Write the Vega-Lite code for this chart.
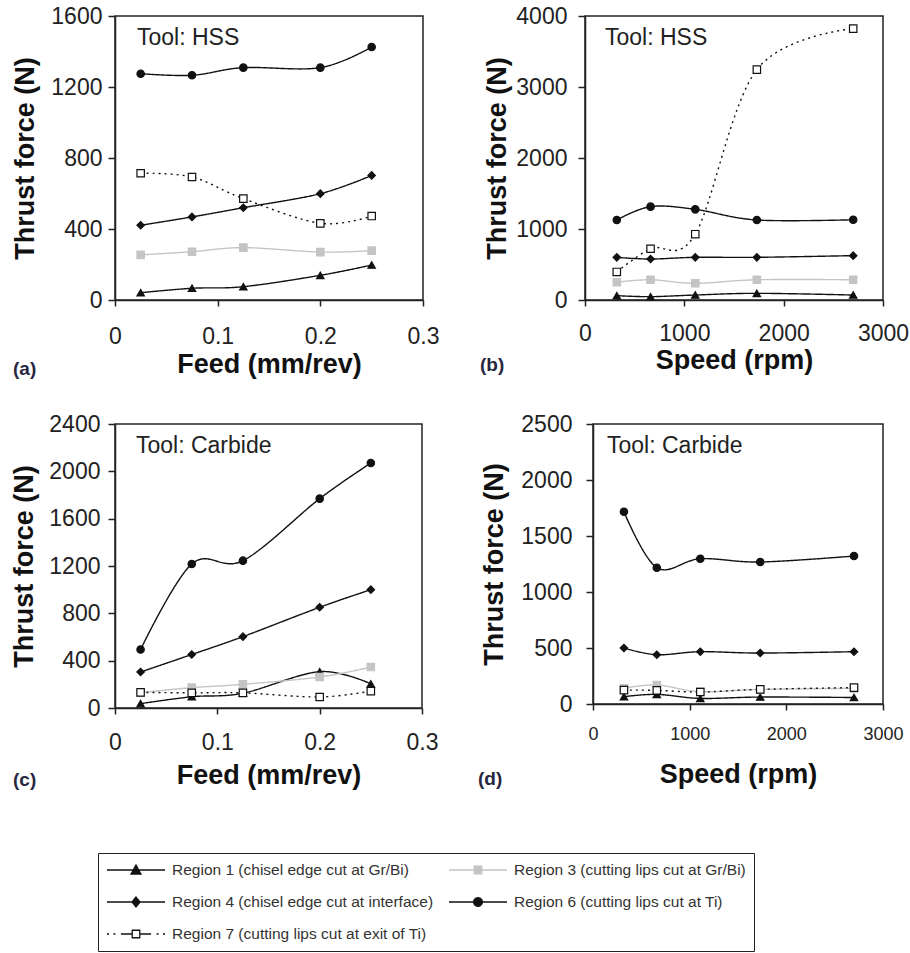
{
  "$schema": "https://vega.github.io/schema/vega-lite/v6.json",
  "background": "white",
  "autosize": {"type": "none"},
  "padding": {"left": 115, "top": 16, "right": 795, "bottom": 937},
  "datasets": {
    "thrust": [
      {"panel": "a", "feed": 0.025, "region": "Region 1 (chisel edge cut at Gr/Bi)", "force": 41},
      {"panel": "a", "feed": 0.075, "region": "Region 1 (chisel edge cut at Gr/Bi)", "force": 66},
      {"panel": "a", "feed": 0.125, "region": "Region 1 (chisel edge cut at Gr/Bi)", "force": 75},
      {"panel": "a", "feed": 0.2, "region": "Region 1 (chisel edge cut at Gr/Bi)", "force": 139},
      {"panel": "a", "feed": 0.25, "region": "Region 1 (chisel edge cut at Gr/Bi)", "force": 197},
      {"panel": "a", "feed": 0.025, "region": "Region 3 (cutting lips cut at Gr/Bi)", "force": 254},
      {"panel": "a", "feed": 0.075, "region": "Region 3 (cutting lips cut at Gr/Bi)", "force": 272},
      {"panel": "a", "feed": 0.125, "region": "Region 3 (cutting lips cut at Gr/Bi)", "force": 295},
      {"panel": "a", "feed": 0.2, "region": "Region 3 (cutting lips cut at Gr/Bi)", "force": 270},
      {"panel": "a", "feed": 0.25, "region": "Region 3 (cutting lips cut at Gr/Bi)", "force": 278},
      {"panel": "a", "feed": 0.025, "region": "Region 4 (chisel edge cut at interface)", "force": 421},
      {"panel": "a", "feed": 0.075, "region": "Region 4 (chisel edge cut at interface)", "force": 468},
      {"panel": "a", "feed": 0.125, "region": "Region 4 (chisel edge cut at interface)", "force": 520},
      {"panel": "a", "feed": 0.2, "region": "Region 4 (chisel edge cut at interface)", "force": 599},
      {"panel": "a", "feed": 0.25, "region": "Region 4 (chisel edge cut at interface)", "force": 702},
      {"panel": "a", "feed": 0.025, "region": "Region 6 (cutting lips cut at Ti)", "force": 1275},
      {"panel": "a", "feed": 0.075, "region": "Region 6 (cutting lips cut at Ti)", "force": 1266},
      {"panel": "a", "feed": 0.125, "region": "Region 6 (cutting lips cut at Ti)", "force": 1309},
      {"panel": "a", "feed": 0.2, "region": "Region 6 (cutting lips cut at Ti)", "force": 1309},
      {"panel": "a", "feed": 0.25, "region": "Region 6 (cutting lips cut at Ti)", "force": 1425},
      {"panel": "a", "feed": 0.025, "region": "Region 7 (cutting lips cut at exit of Ti)", "force": 714},
      {"panel": "a", "feed": 0.075, "region": "Region 7 (cutting lips cut at exit of Ti)", "force": 693},
      {"panel": "a", "feed": 0.125, "region": "Region 7 (cutting lips cut at exit of Ti)", "force": 571},
      {"panel": "a", "feed": 0.2, "region": "Region 7 (cutting lips cut at exit of Ti)", "force": 432},
      {"panel": "a", "feed": 0.25, "region": "Region 7 (cutting lips cut at exit of Ti)", "force": 473},

      {"panel": "b", "speed": 320, "region": "Region 1 (chisel edge cut at Gr/Bi)", "force": 61},
      {"panel": "b", "speed": 660, "region": "Region 1 (chisel edge cut at Gr/Bi)", "force": 47},
      {"panel": "b", "speed": 1110, "region": "Region 1 (chisel edge cut at Gr/Bi)", "force": 70},
      {"panel": "b", "speed": 1730, "region": "Region 1 (chisel edge cut at Gr/Bi)", "force": 94},
      {"panel": "b", "speed": 2700, "region": "Region 1 (chisel edge cut at Gr/Bi)", "force": 70},
      {"panel": "b", "speed": 320, "region": "Region 3 (cutting lips cut at Gr/Bi)", "force": 250},
      {"panel": "b", "speed": 660, "region": "Region 3 (cutting lips cut at Gr/Bi)", "force": 285},
      {"panel": "b", "speed": 1110, "region": "Region 3 (cutting lips cut at Gr/Bi)", "force": 235},
      {"panel": "b", "speed": 1730, "region": "Region 3 (cutting lips cut at Gr/Bi)", "force": 285},
      {"panel": "b", "speed": 2700, "region": "Region 3 (cutting lips cut at Gr/Bi)", "force": 285},
      {"panel": "b", "speed": 320, "region": "Region 4 (chisel edge cut at interface)", "force": 601},
      {"panel": "b", "speed": 660, "region": "Region 4 (chisel edge cut at interface)", "force": 577},
      {"panel": "b", "speed": 1110, "region": "Region 4 (chisel edge cut at interface)", "force": 601},
      {"panel": "b", "speed": 1730, "region": "Region 4 (chisel edge cut at interface)", "force": 601},
      {"panel": "b", "speed": 2700, "region": "Region 4 (chisel edge cut at interface)", "force": 625},
      {"panel": "b", "speed": 320, "region": "Region 6 (cutting lips cut at Ti)", "force": 1127},
      {"panel": "b", "speed": 660, "region": "Region 6 (cutting lips cut at Ti)", "force": 1315},
      {"panel": "b", "speed": 1110, "region": "Region 6 (cutting lips cut at Ti)", "force": 1277},
      {"panel": "b", "speed": 1730, "region": "Region 6 (cutting lips cut at Ti)", "force": 1127},
      {"panel": "b", "speed": 2700, "region": "Region 6 (cutting lips cut at Ti)", "force": 1130},
      {"panel": "b", "speed": 320, "region": "Region 7 (cutting lips cut at exit of Ti)", "force": 395},
      {"panel": "b", "speed": 660, "region": "Region 7 (cutting lips cut at exit of Ti)", "force": 722},
      {"panel": "b", "speed": 1110, "region": "Region 7 (cutting lips cut at exit of Ti)", "force": 927},
      {"panel": "b", "speed": 1730, "region": "Region 7 (cutting lips cut at exit of Ti)", "force": 3245},
      {"panel": "b", "speed": 2700, "region": "Region 7 (cutting lips cut at exit of Ti)", "force": 3822},

      {"panel": "c", "feed": 0.025, "region": "Region 1 (chisel edge cut at Gr/Bi)", "force": 37},
      {"panel": "c", "feed": 0.075, "region": "Region 1 (chisel edge cut at Gr/Bi)", "force": 95},
      {"panel": "c", "feed": 0.125, "region": "Region 1 (chisel edge cut at Gr/Bi)", "force": 125},
      {"panel": "c", "feed": 0.2, "region": "Region 1 (chisel edge cut at Gr/Bi)", "force": 307},
      {"panel": "c", "feed": 0.25, "region": "Region 1 (chisel edge cut at Gr/Bi)", "force": 204},
      {"panel": "c", "feed": 0.025, "region": "Region 3 (cutting lips cut at Gr/Bi)", "force": 130},
      {"panel": "c", "feed": 0.075, "region": "Region 3 (cutting lips cut at Gr/Bi)", "force": 172},
      {"panel": "c", "feed": 0.125, "region": "Region 3 (cutting lips cut at Gr/Bi)", "force": 200},
      {"panel": "c", "feed": 0.2, "region": "Region 3 (cutting lips cut at Gr/Bi)", "force": 262},
      {"panel": "c", "feed": 0.25, "region": "Region 3 (cutting lips cut at Gr/Bi)", "force": 346},
      {"panel": "c", "feed": 0.025, "region": "Region 4 (chisel edge cut at interface)", "force": 304},
      {"panel": "c", "feed": 0.075, "region": "Region 4 (chisel edge cut at interface)", "force": 452},
      {"panel": "c", "feed": 0.125, "region": "Region 4 (chisel edge cut at interface)", "force": 603},
      {"panel": "c", "feed": 0.2, "region": "Region 4 (chisel edge cut at interface)", "force": 851},
      {"panel": "c", "feed": 0.25, "region": "Region 4 (chisel edge cut at interface)", "force": 1000},
      {"panel": "c", "feed": 0.025, "region": "Region 6 (cutting lips cut at Ti)", "force": 494},
      {"panel": "c", "feed": 0.075, "region": "Region 6 (cutting lips cut at Ti)", "force": 1217},
      {"panel": "c", "feed": 0.125, "region": "Region 6 (cutting lips cut at Ti)", "force": 1245},
      {"panel": "c", "feed": 0.2, "region": "Region 6 (cutting lips cut at Ti)", "force": 1769},
      {"panel": "c", "feed": 0.25, "region": "Region 6 (cutting lips cut at Ti)", "force": 2070},
      {"panel": "c", "feed": 0.025, "region": "Region 7 (cutting lips cut at exit of Ti)", "force": 132},
      {"panel": "c", "feed": 0.075, "region": "Region 7 (cutting lips cut at exit of Ti)", "force": 128},
      {"panel": "c", "feed": 0.125, "region": "Region 7 (cutting lips cut at exit of Ti)", "force": 128},
      {"panel": "c", "feed": 0.2, "region": "Region 7 (cutting lips cut at exit of Ti)", "force": 93},
      {"panel": "c", "feed": 0.25, "region": "Region 7 (cutting lips cut at exit of Ti)", "force": 143},

      {"panel": "d", "speed": 320, "region": "Region 1 (chisel edge cut at Gr/Bi)", "force": 65},
      {"panel": "d", "speed": 660, "region": "Region 1 (chisel edge cut at Gr/Bi)", "force": 86},
      {"panel": "d", "speed": 1110, "region": "Region 1 (chisel edge cut at Gr/Bi)", "force": 50},
      {"panel": "d", "speed": 1730, "region": "Region 1 (chisel edge cut at Gr/Bi)", "force": 62},
      {"panel": "d", "speed": 2700, "region": "Region 1 (chisel edge cut at Gr/Bi)", "force": 58},
      {"panel": "d", "speed": 320, "region": "Region 3 (cutting lips cut at Gr/Bi)", "force": 140},
      {"panel": "d", "speed": 660, "region": "Region 3 (cutting lips cut at Gr/Bi)", "force": 170},
      {"panel": "d", "speed": 1110, "region": "Region 3 (cutting lips cut at Gr/Bi)", "force": 110},
      {"panel": "d", "speed": 1730, "region": "Region 3 (cutting lips cut at Gr/Bi)", "force": 130},
      {"panel": "d", "speed": 2700, "region": "Region 3 (cutting lips cut at Gr/Bi)", "force": 140},
      {"panel": "d", "speed": 320, "region": "Region 4 (chisel edge cut at interface)", "force": 500},
      {"panel": "d", "speed": 660, "region": "Region 4 (chisel edge cut at interface)", "force": 440},
      {"panel": "d", "speed": 1110, "region": "Region 4 (chisel edge cut at interface)", "force": 467},
      {"panel": "d", "speed": 1730, "region": "Region 4 (chisel edge cut at interface)", "force": 455},
      {"panel": "d", "speed": 2700, "region": "Region 4 (chisel edge cut at interface)", "force": 467},
      {"panel": "d", "speed": 320, "region": "Region 6 (cutting lips cut at Ti)", "force": 1716},
      {"panel": "d", "speed": 660, "region": "Region 6 (cutting lips cut at Ti)", "force": 1217},
      {"panel": "d", "speed": 1110, "region": "Region 6 (cutting lips cut at Ti)", "force": 1297},
      {"panel": "d", "speed": 1730, "region": "Region 6 (cutting lips cut at Ti)", "force": 1268},
      {"panel": "d", "speed": 2700, "region": "Region 6 (cutting lips cut at Ti)", "force": 1321},
      {"panel": "d", "speed": 320, "region": "Region 7 (cutting lips cut at exit of Ti)", "force": 124},
      {"panel": "d", "speed": 660, "region": "Region 7 (cutting lips cut at exit of Ti)", "force": 122},
      {"panel": "d", "speed": 1110, "region": "Region 7 (cutting lips cut at exit of Ti)", "force": 107},
      {"panel": "d", "speed": 1730, "region": "Region 7 (cutting lips cut at exit of Ti)", "force": 131},
      {"panel": "d", "speed": 2700, "region": "Region 7 (cutting lips cut at exit of Ti)", "force": 146}
    ]
  },
  "spacing": 32,
  "vconcat": [
    {
      "bounds": "flush",
      "spacing": 162,
      "hconcat": [
        {
          "width": 308,
          "height": 284,
          "title": {"text": "(a)", "dx": -102},
          "data": {"name": "thrust"},
          "transform": [{"filter": "datum.panel === 'a'"}],
          "layer": [
            {
              "mark": {"type": "line", "interpolate": "cardinal", "strokeWidth": 1.4},
              "encoding": {
                "x": {"field": "feed", "type": "quantitative", "scale": {"domain": [0, 0.3], "nice": false, "zero": false},
                  "axis": {"title": "Feed (mm/rev)", "values": [0, 0.1, 0.2, 0.3], "format": "~g", "labelPadding": 37, "titleY": 72}},
                "y": {"field": "force", "type": "quantitative", "scale": {"domain": [0, 1600], "nice": false},
                  "axis": {"title": "Thrust force (N)", "values": [0, 400, 800, 1200, 1600], "labelPadding": 6, "titleX": -82}},
                "color": {"field": "region", "type": "nominal",
                  "scale": {"domain": ["Region 1 (chisel edge cut at Gr/Bi)", "Region 4 (chisel edge cut at interface)", "Region 7 (cutting lips cut at exit of Ti)", "Region 3 (cutting lips cut at Gr/Bi)", "Region 6 (cutting lips cut at Ti)"], "range": ["#111111", "#111111", "#111111", "#c4c4c4", "#111111"]},
                  "legend": {"encode": {
                    "labels": {"update": {
                      "text": {"signal": "indexof(datum.label,'Region 3')===0 ? datum.label + '\u2003\u2003' : datum.label"}
                    }},
                    "symbols": {"update": {
                      "shape": {"signal": "indexof(datum.value,'Region 1')===0 ? 'M-1,0H1M-0.17,0.14L0,-0.17L0.17,0.14Z' : indexof(datum.value,'Region 3')===0 ? 'M-1,0H1M-0.13,-0.13H0.13V0.13H-0.13Z' : indexof(datum.value,'Region 4')===0 ? 'M-1,0H1M0,-0.17L0.14,0L0,0.17L-0.14,0Z' : indexof(datum.value,'Region 6')===0 ? 'M-1,0H1M-0.15,0A0.15,0.15,0,1,0,0.15,0A0.15,0.15,0,1,0,-0.15,0Z' : 'M-1,0h0.07M-0.78,0h0.07M-0.52,0H-0.15M0.15,0H0.52M0.71,0h0.07M0.93,0h0.07M-0.13,-0.13H0.13V0.13H-0.13Z'"},
                      "fill": {"signal": "indexof(datum.value,'Region 3')===0 ? '#c4c4c4' : indexof(datum.value,'Region 7')===0 ? '#ffffff' : '#111111'"},
                      "strokeDash": {"value": [1, 0]},
                      "strokeWidth": {"value": 1.3},
                      "opacity": {"value": 1}
                    }}}}},
                "strokeDash": {"field": "region", "type": "nominal", "legend": null,
                  "scale": {"domain": ["Region 1 (chisel edge cut at Gr/Bi)", "Region 3 (cutting lips cut at Gr/Bi)", "Region 4 (chisel edge cut at interface)", "Region 6 (cutting lips cut at Ti)", "Region 7 (cutting lips cut at exit of Ti)"], "range": [[1, 0], [1, 0], [1, 0], [1, 0], [2, 4]]}}
              }
            },
            {
              "mark": {"type": "point", "filled": true, "size": 55, "strokeWidth": 1.2, "opacity": 1},
              "encoding": {
                "x": {"field": "feed", "type": "quantitative"},
                "y": {"field": "force", "type": "quantitative"},
                "shape": {"field": "region", "type": "nominal", "legend": null,
                  "scale": {"domain": ["Region 1 (chisel edge cut at Gr/Bi)", "Region 3 (cutting lips cut at Gr/Bi)", "Region 4 (chisel edge cut at interface)", "Region 6 (cutting lips cut at Ti)", "Region 7 (cutting lips cut at exit of Ti)"], "range": ["triangle-up", "square", "diamond", "circle", "square"]}},
                "fill": {"field": "region", "type": "nominal", "legend": null,
                  "scale": {"domain": ["Region 1 (chisel edge cut at Gr/Bi)", "Region 3 (cutting lips cut at Gr/Bi)", "Region 4 (chisel edge cut at interface)", "Region 6 (cutting lips cut at Ti)", "Region 7 (cutting lips cut at exit of Ti)"], "range": ["#111111", "#c4c4c4", "#111111", "#111111", "#ffffff"]}},
                "stroke": {"field": "region", "type": "nominal", "legend": null,
                  "scale": {"domain": ["Region 1 (chisel edge cut at Gr/Bi)", "Region 3 (cutting lips cut at Gr/Bi)", "Region 4 (chisel edge cut at interface)", "Region 6 (cutting lips cut at Ti)", "Region 7 (cutting lips cut at exit of Ti)"], "range": ["#111111", "#c4c4c4", "#111111", "#111111", "#111111"]}}
              }
            },
            {
              "transform": [{"aggregate": [{"op": "count", "as": "points"}]}],
              "mark": {"type": "text", "align": "left", "baseline": "middle", "fontSize": 23, "color": "#222222"},
              "encoding": {"x": {"datum": 0.0214}, "y": {"datum": 1476}, "text": {"value": "Tool: HSS"}}
            }
          ]
        },
        {
          "width": 298,
          "height": 284,
          "title": {"text": "(b)", "dx": -105},
          "data": {"name": "thrust"},
          "transform": [{"filter": "datum.panel === 'b'"}],
          "layer": [
            {
              "mark": {"type": "line", "interpolate": "cardinal", "strokeWidth": 1.4},
              "encoding": {
                "x": {"field": "speed", "type": "quantitative", "scale": {"domain": [0, 3000], "nice": false, "zero": false},
                  "axis": {"title": "Speed (rpm)", "values": [0, 1000, 2000, 3000], "format": "d", "labelPadding": 34, "titleY": 68}},
                "y": {"field": "force", "type": "quantitative", "scale": {"domain": [0, 4000], "nice": false},
                  "axis": {"title": "Thrust force (N)", "values": [0, 1000, 2000, 3000, 4000], "labelPadding": 11, "titleX": -80}},
                "color": {"field": "region", "type": "nominal",
                  "scale": {"domain": ["Region 1 (chisel edge cut at Gr/Bi)", "Region 4 (chisel edge cut at interface)", "Region 7 (cutting lips cut at exit of Ti)", "Region 3 (cutting lips cut at Gr/Bi)", "Region 6 (cutting lips cut at Ti)"], "range": ["#111111", "#111111", "#111111", "#c4c4c4", "#111111"]}},
                "strokeDash": {"field": "region", "type": "nominal", "legend": null,
                  "scale": {"domain": ["Region 1 (chisel edge cut at Gr/Bi)", "Region 3 (cutting lips cut at Gr/Bi)", "Region 4 (chisel edge cut at interface)", "Region 6 (cutting lips cut at Ti)", "Region 7 (cutting lips cut at exit of Ti)"], "range": [[1, 0], [1, 0], [1, 0], [1, 0], [2, 4]]}}
              }
            },
            {
              "mark": {"type": "point", "filled": true, "size": 55, "strokeWidth": 1.2, "opacity": 1},
              "encoding": {
                "x": {"field": "speed", "type": "quantitative"},
                "y": {"field": "force", "type": "quantitative"},
                "shape": {"field": "region", "type": "nominal", "legend": null,
                  "scale": {"domain": ["Region 1 (chisel edge cut at Gr/Bi)", "Region 3 (cutting lips cut at Gr/Bi)", "Region 4 (chisel edge cut at interface)", "Region 6 (cutting lips cut at Ti)", "Region 7 (cutting lips cut at exit of Ti)"], "range": ["triangle-up", "square", "diamond", "circle", "square"]}},
                "fill": {"field": "region", "type": "nominal", "legend": null,
                  "scale": {"domain": ["Region 1 (chisel edge cut at Gr/Bi)", "Region 3 (cutting lips cut at Gr/Bi)", "Region 4 (chisel edge cut at interface)", "Region 6 (cutting lips cut at Ti)", "Region 7 (cutting lips cut at exit of Ti)"], "range": ["#111111", "#c4c4c4", "#111111", "#111111", "#ffffff"]}},
                "stroke": {"field": "region", "type": "nominal", "legend": null,
                  "scale": {"domain": ["Region 1 (chisel edge cut at Gr/Bi)", "Region 3 (cutting lips cut at Gr/Bi)", "Region 4 (chisel edge cut at interface)", "Region 6 (cutting lips cut at Ti)", "Region 7 (cutting lips cut at exit of Ti)"], "range": ["#111111", "#c4c4c4", "#111111", "#111111", "#111111"]}}
              }
            },
            {
              "transform": [{"aggregate": [{"op": "count", "as": "points"}]}],
              "mark": {"type": "text", "align": "left", "baseline": "middle", "fontSize": 23, "color": "#222222"},
              "encoding": {"x": {"datum": 201}, "y": {"datum": 3690}, "text": {"value": "Tool: HSS"}}
            }
          ]
        }
      ]
    },
    {
      "bounds": "flush",
      "spacing": 171,
      "hconcat": [
        {
          "width": 307,
          "height": 284,
          "title": {"text": "(c)", "dx": -102},
          "data": {"name": "thrust"},
          "transform": [{"filter": "datum.panel === 'c'"}],
          "layer": [
            {
              "mark": {"type": "line", "interpolate": "cardinal", "strokeWidth": 1.4},
              "encoding": {
                "x": {"field": "feed", "type": "quantitative", "scale": {"domain": [0, 0.3], "nice": false, "zero": false},
                  "axis": {"title": "Feed (mm/rev)", "values": [0, 0.1, 0.2, 0.3], "format": "~g", "labelPadding": 35, "titleY": 75}},
                "y": {"field": "force", "type": "quantitative", "scale": {"domain": [0, 2400], "nice": false},
                  "axis": {"title": "Thrust force (N)", "values": [0, 400, 800, 1200, 1600, 2000, 2400], "labelPadding": 8, "titleX": -83}},
                "color": {"field": "region", "type": "nominal",
                  "scale": {"domain": ["Region 1 (chisel edge cut at Gr/Bi)", "Region 4 (chisel edge cut at interface)", "Region 7 (cutting lips cut at exit of Ti)", "Region 3 (cutting lips cut at Gr/Bi)", "Region 6 (cutting lips cut at Ti)"], "range": ["#111111", "#111111", "#111111", "#c4c4c4", "#111111"]}},
                "strokeDash": {"field": "region", "type": "nominal", "legend": null,
                  "scale": {"domain": ["Region 1 (chisel edge cut at Gr/Bi)", "Region 3 (cutting lips cut at Gr/Bi)", "Region 4 (chisel edge cut at interface)", "Region 6 (cutting lips cut at Ti)", "Region 7 (cutting lips cut at exit of Ti)"], "range": [[1, 0], [1, 0], [1, 0], [1, 0], [2, 4]]}}
              }
            },
            {
              "mark": {"type": "point", "filled": true, "size": 55, "strokeWidth": 1.2, "opacity": 1},
              "encoding": {
                "x": {"field": "feed", "type": "quantitative"},
                "y": {"field": "force", "type": "quantitative"},
                "shape": {"field": "region", "type": "nominal", "legend": null,
                  "scale": {"domain": ["Region 1 (chisel edge cut at Gr/Bi)", "Region 3 (cutting lips cut at Gr/Bi)", "Region 4 (chisel edge cut at interface)", "Region 6 (cutting lips cut at Ti)", "Region 7 (cutting lips cut at exit of Ti)"], "range": ["triangle-up", "square", "diamond", "circle", "square"]}},
                "fill": {"field": "region", "type": "nominal", "legend": null,
                  "scale": {"domain": ["Region 1 (chisel edge cut at Gr/Bi)", "Region 3 (cutting lips cut at Gr/Bi)", "Region 4 (chisel edge cut at interface)", "Region 6 (cutting lips cut at Ti)", "Region 7 (cutting lips cut at exit of Ti)"], "range": ["#111111", "#c4c4c4", "#111111", "#111111", "#ffffff"]}},
                "stroke": {"field": "region", "type": "nominal", "legend": null,
                  "scale": {"domain": ["Region 1 (chisel edge cut at Gr/Bi)", "Region 3 (cutting lips cut at Gr/Bi)", "Region 4 (chisel edge cut at interface)", "Region 6 (cutting lips cut at Ti)", "Region 7 (cutting lips cut at exit of Ti)"], "range": ["#111111", "#c4c4c4", "#111111", "#111111", "#111111"]}}
              }
            },
            {
              "transform": [{"aggregate": [{"op": "count", "as": "points"}]}],
              "mark": {"type": "text", "align": "left", "baseline": "middle", "fontSize": 23, "color": "#222222"},
              "encoding": {"x": {"datum": 0.0205}, "y": {"datum": 2214}, "text": {"value": "Tool: Carbide"}}
            }
          ]
        },
        {
          "width": 290,
          "height": 280,
          "title": {"text": "(d)", "dx": -115},
          "data": {"name": "thrust"},
          "transform": [{"filter": "datum.panel === 'd'"}],
          "layer": [
            {
              "mark": {"type": "line", "interpolate": "cardinal", "strokeWidth": 1.4},
              "encoding": {
                "x": {"field": "speed", "type": "quantitative", "scale": {"domain": [0, 3000], "nice": false, "zero": false},
                  "axis": {"title": "Speed (rpm)", "values": [0, 1000, 2000, 3000], "format": "d", "labelFontSize": 18, "labelPadding": 29, "titleY": 78}},
                "y": {"field": "force", "type": "quantitative", "scale": {"domain": [0, 2500], "nice": false},
                  "axis": {"title": "Thrust force (N)", "values": [0, 500, 1000, 1500, 2000, 2500], "labelPadding": 14, "titleX": -91}},
                "color": {"field": "region", "type": "nominal",
                  "scale": {"domain": ["Region 1 (chisel edge cut at Gr/Bi)", "Region 4 (chisel edge cut at interface)", "Region 7 (cutting lips cut at exit of Ti)", "Region 3 (cutting lips cut at Gr/Bi)", "Region 6 (cutting lips cut at Ti)"], "range": ["#111111", "#111111", "#111111", "#c4c4c4", "#111111"]}},
                "strokeDash": {"field": "region", "type": "nominal", "legend": null,
                  "scale": {"domain": ["Region 1 (chisel edge cut at Gr/Bi)", "Region 3 (cutting lips cut at Gr/Bi)", "Region 4 (chisel edge cut at interface)", "Region 6 (cutting lips cut at Ti)", "Region 7 (cutting lips cut at exit of Ti)"], "range": [[1, 0], [1, 0], [1, 0], [1, 0], [2, 4]]}}
              }
            },
            {
              "mark": {"type": "point", "filled": true, "size": 55, "strokeWidth": 1.2, "opacity": 1},
              "encoding": {
                "x": {"field": "speed", "type": "quantitative"},
                "y": {"field": "force", "type": "quantitative"},
                "shape": {"field": "region", "type": "nominal", "legend": null,
                  "scale": {"domain": ["Region 1 (chisel edge cut at Gr/Bi)", "Region 3 (cutting lips cut at Gr/Bi)", "Region 4 (chisel edge cut at interface)", "Region 6 (cutting lips cut at Ti)", "Region 7 (cutting lips cut at exit of Ti)"], "range": ["triangle-up", "square", "diamond", "circle", "square"]}},
                "fill": {"field": "region", "type": "nominal", "legend": null,
                  "scale": {"domain": ["Region 1 (chisel edge cut at Gr/Bi)", "Region 3 (cutting lips cut at Gr/Bi)", "Region 4 (chisel edge cut at interface)", "Region 6 (cutting lips cut at Ti)", "Region 7 (cutting lips cut at exit of Ti)"], "range": ["#111111", "#c4c4c4", "#111111", "#111111", "#ffffff"]}},
                "stroke": {"field": "region", "type": "nominal", "legend": null,
                  "scale": {"domain": ["Region 1 (chisel edge cut at Gr/Bi)", "Region 3 (cutting lips cut at Gr/Bi)", "Region 4 (chisel edge cut at interface)", "Region 6 (cutting lips cut at Ti)", "Region 7 (cutting lips cut at exit of Ti)"], "range": ["#111111", "#c4c4c4", "#111111", "#111111", "#111111"]}}
              }
            },
            {
              "transform": [{"aggregate": [{"op": "count", "as": "points"}]}],
              "mark": {"type": "text", "align": "left", "baseline": "middle", "fontSize": 23, "color": "#222222"},
              "encoding": {"x": {"datum": 145}, "y": {"datum": 2304}, "text": {"value": "Tool: Carbide"}}
            }
          ]
        }
      ]
    }
  ],
  "config": {
    "font": "Liberation Sans",
    "view": {"stroke": "#222222", "strokeWidth": 1.5},
    "axis": {
      "grid": false,
      "domainColor": "#222222",
      "domainWidth": 1.5,
      "tickColor": "#222222",
      "tickWidth": 1.5,
      "labelFont": "Liberation Sans",
      "labelFontSize": 23,
      "labelColor": "#222222",
      "labelFlush": false,
      "labelOverlap": false,
      "titleFont": "Liberation Sans",
      "titleFontSize": 27,
      "titleFontWeight": "bold",
      "titleColor": "#111111",
      "titleBaseline": "alphabetic"
    },
    "axisX": {"tickSize": 6, "labelBaseline": "alphabetic"},
    "axisY": {"tickSize": 7, "labelBaseline": "middle", "format": "d"},
    "title": {
      "orient": "bottom",
      "anchor": "start",
      "frame": "group",
      "font": "Liberation Sans",
      "fontSize": 19,
      "fontWeight": "bold",
      "color": "#262640",
      "baseline": "alphabetic",
      "offset": -17
    },
    "legend": {
      "title": null,
      "orient": "none",
      "legendX": -17,
      "legendY": 837,
      "columns": 2,
      "columnPadding": 14,
      "rowPadding": 14,
      "padding": 8,
      "clipHeight": 18,
      "strokeColor": "#222222",
      "fillColor": "#ffffff",
      "symbolSize": 3364,
      "labelFont": "Liberation Sans",
      "labelFontSize": 15.5,
      "labelColor": "#333333",
      "labelLimit": 400,
      "labelOffset": 6
    }
  }
}
